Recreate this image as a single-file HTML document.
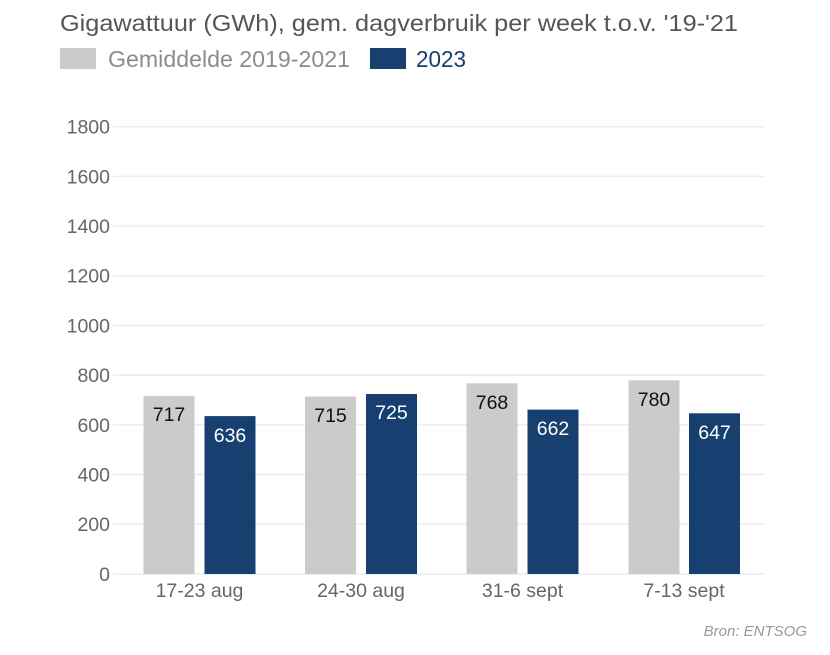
<!DOCTYPE html>
<html>
<head>
<meta charset="utf-8">
<style>
  html,body{margin:0;padding:0;background:#fff;}
  svg{display:block;}
  text{font-family:"Liberation Sans",sans-serif;}
</style>
</head>
<body>
<svg width="830" height="655" viewBox="0 0 830 655" xmlns="http://www.w3.org/2000/svg">
  <rect width="830" height="655" fill="#fff"/>
  <!-- Title -->
  <text x="60" y="31" font-size="23" fill="#555" textLength="678" lengthAdjust="spacingAndGlyphs">Gigawattuur (GWh), gem. dagverbruik per week t.o.v. '19-'21</text>
  <!-- Legend -->
  <rect x="60" y="48" width="36" height="21" fill="#cbcbcb"/>
  <text x="108" y="67" font-size="23" fill="#8c8c8c" textLength="242" lengthAdjust="spacingAndGlyphs">Gemiddelde 2019-2021</text>
  <rect x="370" y="48" width="36" height="21" fill="#173f70"/>
  <text x="416" y="67" font-size="23" fill="#173f70" textLength="50" lengthAdjust="spacingAndGlyphs">2023</text>

  <!-- Gridlines -->
  <g stroke="#ececec" stroke-width="1.5">
    <line x1="113" x2="765" y1="126.7" y2="126.7"/>
    <line x1="113" x2="765" y1="176.4" y2="176.4"/>
    <line x1="113" x2="765" y1="226.1" y2="226.1"/>
    <line x1="113" x2="765" y1="275.7" y2="275.7"/>
    <line x1="113" x2="765" y1="325.4" y2="325.4"/>
    <line x1="113" x2="765" y1="375.1" y2="375.1"/>
    <line x1="113" x2="765" y1="424.8" y2="424.8"/>
    <line x1="113" x2="765" y1="474.5" y2="474.5"/>
    <line x1="113" x2="765" y1="524.2" y2="524.2"/>
    <line x1="113" x2="765" y1="574" y2="574"/>
  </g>
  <!-- Y labels -->
  <g font-size="19.5" fill="#666" text-anchor="end">
    <text x="110" y="133.7">1800</text>
    <text x="110" y="183.4">1600</text>
    <text x="110" y="233.1">1400</text>
    <text x="110" y="282.7">1200</text>
    <text x="110" y="332.4">1000</text>
    <text x="110" y="382.1">800</text>
    <text x="110" y="431.8">600</text>
    <text x="110" y="481.5">400</text>
    <text x="110" y="531.2">200</text>
    <text x="110" y="581">0</text>
  </g>

  <!-- Bars -->
  <g fill="#cbcbcb">
    <rect x="143.5" y="395.9" width="51" height="178.1"/>
    <rect x="305" y="396.5" width="51" height="177.5"/>
    <rect x="466.5" y="383.3" width="51" height="190.7"/>
    <rect x="628.5" y="380.3" width="51" height="193.7"/>
  </g>
  <g fill="#173f70">
    <rect x="204.5" y="416.1" width="51" height="157.9"/>
    <rect x="366" y="394" width="51" height="180"/>
    <rect x="527.5" y="409.6" width="51" height="164.4"/>
    <rect x="689" y="413.3" width="51" height="160.7"/>
  </g>

  <!-- Value labels -->
  <g font-size="19.5" text-anchor="middle">
    <text x="169" y="421" fill="#111">717</text>
    <text x="230" y="442" fill="#fff">636</text>
    <text x="330.5" y="422" fill="#111">715</text>
    <text x="391.5" y="419" fill="#fff">725</text>
    <text x="492" y="409" fill="#111">768</text>
    <text x="553" y="435" fill="#fff">662</text>
    <text x="654" y="406" fill="#111">780</text>
    <text x="714.5" y="439" fill="#fff">647</text>
  </g>

  <!-- X labels -->
  <g font-size="19.5" fill="#666" text-anchor="middle">
    <text x="199.5" y="597">17-23 aug</text>
    <text x="361" y="597">24-30 aug</text>
    <text x="522.5" y="597">31-6 sept</text>
    <text x="684" y="597">7-13 sept</text>
  </g>

  <!-- Source -->
  <text x="807" y="636" font-size="15" font-style="italic" fill="#999" text-anchor="end">Bron: ENTSOG</text>
</svg>
</body>
</html>
